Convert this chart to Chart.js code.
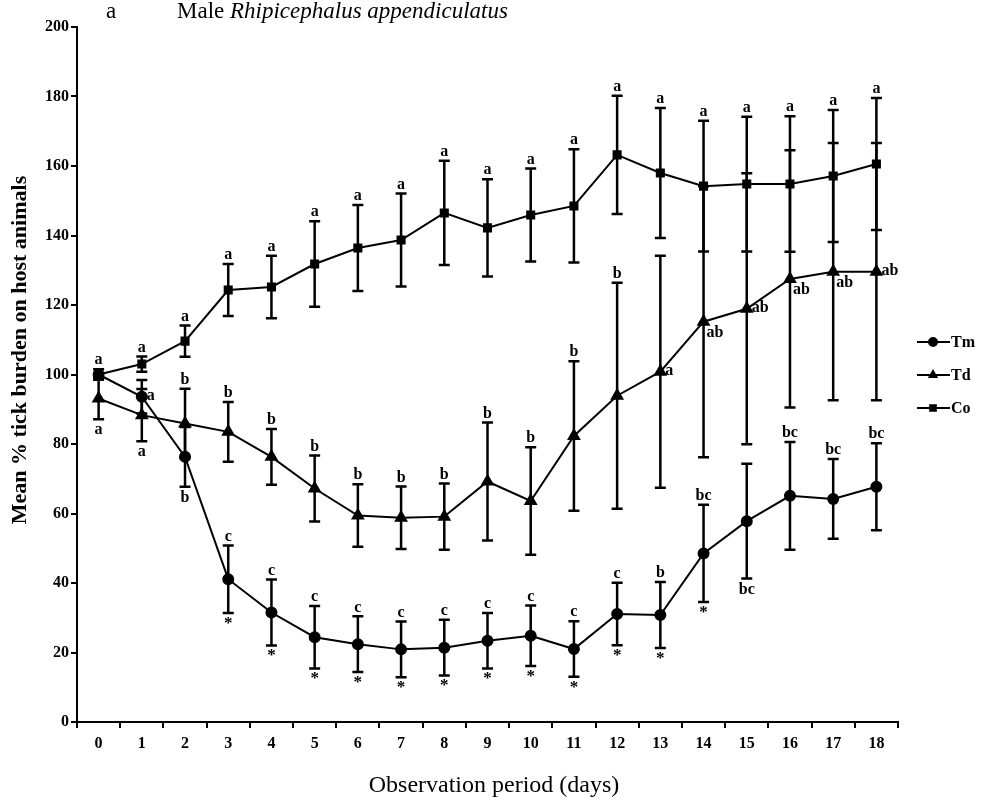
<!DOCTYPE html>
<html>
<head>
<meta charset="utf-8">
<script src="https://cdn.jsdelivr.net/npm/chart.js@4.4.1/dist/chart.umd.min.js"></script>
<style>
  html, body { margin: 0; padding: 0; background: #fff; }
  #wrap { width: 990px; height: 804px; }
</style>
</head>
<body>
<div id="wrap"><canvas id="myChart" width="990" height="804"></canvas></div>
<script>
// observation days
const days = ['0','1','2','3','4','5','6','7','8','9','10','11','12','13','14','15','16','17','18'];

// mean % tick burden
const tmMean = [100, 93.6, 76.3, 41.1, 31.5, 24.4, 22.4, 20.9, 21.4, 23.4, 24.8, 21.0, 31.1, 30.8, 48.5, 57.8, 65.1, 64.2, 67.7];
const tdMean = [93.1, 88.3, 85.9, 83.5, 76.3, 67.2, 59.4, 58.8, 59.1, 69.2, 63.6, 82.3, 93.9, 100.8, 115.2, 118.9, 127.5, 129.6, 129.6];
const coMean = [100, 103, 109.6, 124.3, 125.2, 131.8, 136.4, 138.7, 146.5, 142.2, 145.9, 148.5, 163.2, 158, 154.2, 154.8, 154.8, 157.1, 160.6];

// error bar half-widths
const tmErr = [0, 4.8, 8.6, 9.7, 9.5, 9, 8, 8, 8, 8, 8.7, 8, 9, 9.5, 14, 16.5, 15.5, 11.5, 12.5];
const tdErr = [6, 7.5, 10, 8.6, 8, 9.5, 9, 9, 9.5, 17, 15.5, 21.5, 32.5, 33.4, 39, 39, 37, 37, 37];
const coErr = [1.5, 2.2, 4.5, 7.5, 9, 12.3, 12.4, 13.4, 15, 14, 13.4, 16.3, 17, 18.7, 18.8, 19.4, 19.5, 19, 19];

// significance letters
const tmLetters = ['', 'a', 'b', 'c', 'c', 'c', 'c', 'c', 'c', 'c', 'c', 'c', 'c', 'b', 'bc', 'bc', 'bc', 'bc', 'bc'];
const tdLetters = ['a', 'a', 'b', 'b', 'b', 'b', 'b', 'b', 'b', 'b', 'b', 'b', 'b', 'a', 'ab', 'ab', 'ab', 'ab', 'ab'];
const coLetters = ['a', 'a', 'a', 'a', 'a', 'a', 'a', 'a', 'a', 'a', 'a', 'a', 'a', 'a', 'a', 'a', 'a', 'a', 'a'];
const tmStars = ['', '', '', '*', '*', '*', '*', '*', '*', '*', '*', '*', '*', '*', '*', '', '', '', ''];

const yTicks = [0, 20, 40, 60, 80, 100, 120, 140, 160, 180, 200];

// where each letter sits relative to its bar
const tmPlace = ['', 'right', 'below', 'above', 'above', 'above', 'above', 'above', 'above', 'above', 'above', 'above', 'above', 'above', 'above', 'below', 'above', 'above', 'above'];
const tdPlace = ['below', 'below', 'above', 'above', 'above', 'above', 'above', 'above', 'above', 'above', 'above', 'above', 'above', 'right', 'rightBelow', 'right', 'rightBelow', 'rightBelow', 'right'];
const coPlace = coLetters.map(() => 'above');

const serif = '"Liberation Serif", "DejaVu Serif", serif';

const errorBars = {
    id: 'errorBars',
    beforeDatasetsDraw(chart) {
        const ctx = chart.ctx;
        const y = chart.scales.y;
        ctx.save();
        ctx.strokeStyle = '#000';
        ctx.lineWidth = 2.5;
        chart.data.datasets.forEach((ds, i) => {
            const meta = chart.getDatasetMeta(i);
            ds.data.forEach((v, j) => {
                const e = ds.err[j];
                if (!e) return;
                const x = meta.data[j].x;
                const hi = y.getPixelForValue(v + e);
                const lo = y.getPixelForValue(v - e);
                ctx.beginPath();
                ctx.moveTo(x, hi); ctx.lineTo(x, lo);
                ctx.moveTo(x - 5.5, hi); ctx.lineTo(x + 5.5, hi);
                ctx.moveTo(x - 5.5, lo); ctx.lineTo(x + 5.5, lo);
                ctx.stroke();
            });
        });
        ctx.restore();
    }
};

const letters = {
    id: 'letters',
    afterDatasetsDraw(chart) {
        const ctx = chart.ctx;
        const y = chart.scales.y;
        ctx.save();
        ctx.fillStyle = '#000';
        chart.data.datasets.forEach((ds, i) => {
            const meta = chart.getDatasetMeta(i);
            ds.data.forEach((v, j) => {
                const x = meta.data[j].x;
                const py = meta.data[j].y;
                const e = ds.err[j] || 0;
                const hi = y.getPixelForValue(v + e);
                const lo = y.getPixelForValue(v - e);
                const txt = ds.letters[j];
                ctx.font = 'bold 16px ' + serif;
                if (txt) {
                    const p = ds.place[j];
                    if (p === 'above') {
                        ctx.textAlign = 'center'; ctx.textBaseline = 'bottom';
                        ctx.fillText(txt, x, hi - 1);
                    } else if (p === 'below') {
                        ctx.textAlign = 'center'; ctx.textBaseline = 'top';
                        ctx.fillText(txt, x, lo + 3);
                    } else if (p === 'right') {
                        ctx.textAlign = 'left'; ctx.textBaseline = 'middle';
                        ctx.fillText(txt, x + 5, py - 1);
                    } else {
                        ctx.textAlign = 'left'; ctx.textBaseline = 'middle';
                        ctx.fillText(txt, x + 3, py + 11);
                    }
                }
                if (ds.stars && ds.stars[j]) {
                    ctx.font = 'bold 17px ' + serif;
                    ctx.textAlign = 'center'; ctx.textBaseline = 'top';
                    ctx.fillText(ds.stars[j], x, lo + 2);
                }
            });
        });

        // title
        ctx.textBaseline = 'middle';
        ctx.textAlign = 'left';
        ctx.font = '23px ' + serif;
        ctx.fillText('a', 106, 12);
        ctx.fillText('Male ', 177, 12);
        const w = ctx.measureText('Male ').width;
        ctx.font = 'italic 23px ' + serif;
        ctx.fillText('Rhipicephalus appendiculatus', 177 + w, 12);

        // axis titles
        ctx.textAlign = 'center';
        ctx.font = '24px ' + serif;
        ctx.fillText('Observation period (days)', 494, 786);
        ctx.save();
        ctx.translate(20, 350);
        ctx.rotate(-Math.PI / 2);
        ctx.font = 'bold 22px ' + serif;
        ctx.fillText('Mean % tick burden on host animals', 0, 0);
        ctx.restore();

        // legend
        const lx = 917;
        chart.data.datasets.forEach((ds, i) => {
            const ly = 342 + i * 33;
            ctx.strokeStyle = '#000';
            ctx.lineWidth = 2;
            ctx.beginPath();
            ctx.moveTo(lx, ly); ctx.lineTo(lx + 33, ly);
            ctx.stroke();
            Chart.helpers.drawPoint(ctx, {
                pointStyle: ds.pointStyle, radius: 4, borderWidth: 1, rotation: 0
            }, lx + 16, ly);
            ctx.fillStyle = '#000';
            ctx.font = 'bold 16px ' + serif;
            ctx.textAlign = 'left';
            ctx.fillText(ds.label, lx + 34, ly + 1);
        });
        ctx.restore();
    }
};

function series(label, data, err, style, radius, letterArr, placeArr, stars) {
    return {
        label: label,
        data: data,
        err: err,
        letters: letterArr,
        place: placeArr,
        stars: stars,
        borderColor: '#000',
        backgroundColor: '#000',
        borderWidth: 2,
        pointStyle: style,
        pointRadius: radius,
        pointBackgroundColor: '#000',
        pointBorderColor: '#000',
        tension: 0,
    };
}

const ctx = document.getElementById('myChart').getContext('2d');

new Chart(ctx, {
    type: 'line',
    data: {
        labels: days,
        datasets: [
            series('Tm', tmMean, tmErr, 'circle', 5, tmLetters, tmPlace, tmStars),
            series('Td', tdMean, tdErr, 'triangle', 6, tdLetters, tdPlace, null),
            series('Co', coMean, coErr, 'rect', 5, coLetters, coPlace, null),
        ],
    },
    options: {
        responsive: false,
        devicePixelRatio: 1,
        animation: false,
        layout: {
            padding: { left: 0, right: 92, top: 27, bottom: 8 },
        },
        plugins: {
            legend: { display: false },
            tooltip: { enabled: false },
        },
        scales: {
            x: {
                type: 'category',
                offset: true,
                grid: { drawOnChartArea: false, drawTicks: true, tickLength: 6, color: '#000', lineWidth: 2, offset: true },
                border: { display: true, color: '#000', width: 2 },
                ticks: { color: '#000', font: { family: serif, size: 16, weight: 'bold' }, padding: 6, maxRotation: 0 },
                afterFit: (scale) => { scale.height = 804 - 722 - 8; },
            },
            y: {
                min: 0,
                max: 200,
                afterBuildTicks: (scale) => { scale.ticks = yTicks.map(v => ({ value: v })); },
                grid: { drawOnChartArea: false, drawTicks: true, tickLength: 6, color: '#000', lineWidth: 2 },
                border: { display: true, color: '#000', width: 2 },
                ticks: { color: '#000', font: { family: serif, size: 16, weight: 'bold' }, padding: 2 },
                afterFit: (scale) => { scale.width = 77; },
            },
        },
    },
    plugins: [errorBars, letters],
});
</script>
</body>
</html>
